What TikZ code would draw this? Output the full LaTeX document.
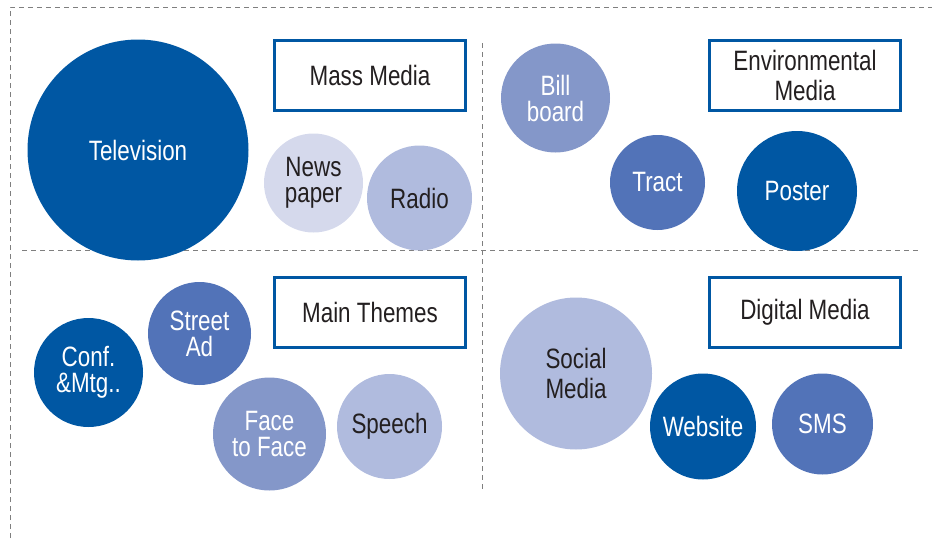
\documentclass[tikz,border=0pt]{standalone}
\usepackage{fontspec}
\setmainfont{Liberation Sans}[FakeStretch=0.8]
\definecolor{bDark}{HTML}{0057A3}
\definecolor{bMid}{HTML}{5273B8}
\definecolor{bSoft}{HTML}{8497C9}
\definecolor{bLight}{HTML}{B0BBDE}
\definecolor{bPale}{HTML}{D5D9EC}
\definecolor{txtgray}{HTML}{231F20}
\definecolor{framegray}{HTML}{7F7F7F}

\begin{document}
\begin{tikzpicture}[x=1pt, y=-1pt,
  every node/.style={font=\fontsize{28}{26}\selectfont},
  loose/.style={font=\fontsize{28}{30}\selectfont},
  bubble/.style={circle, inner sep=0pt, align=center},
  titlebox/.style={draw=bDark, line width=2.6pt, fill=white, minimum width=191pt, minimum height=70pt, inner sep=0pt, text=txtgray, align=center},
  sepline/.style={draw=framegray, dash pattern=on 5pt off 4pt, line width=1pt}]
  \useasboundingbox (0,0) rectangle (934,538);

  % Quadrantes
  \draw[sepline] (10,538) -- (10,7) -- (932,7);
  \draw[sepline] (22,250) -- (920,250);
  \draw[sepline] (482,43) -- (482,490);

  % Mass Media
  \node[titlebox] (massmedia) at (370,75.5) {Mass Media};
  \node[bubble, fill=bDark, text=white, minimum size=221pt] (tv) at (138,150) {Television};
  \node[bubble, fill=bPale, text=txtgray, minimum size=99pt] (newspaper) at (313.5,183) {News\\paper};
  \node[bubble, fill=bLight, text=txtgray, minimum size=105pt] (radio) at (419.5,198) {Radio};

  % Environmental Media
  \node[titlebox, loose] (envmedia) at (805,75.5) {Environmental\\Media};
  \node[bubble, fill=bSoft, text=white, minimum size=109pt] (billboard) at (555.5,98) {Bill\\board};
  \node[bubble, fill=bMid, text=white, minimum size=95pt] (tract) at (657.5,182.5) {Tract};
  \node[bubble, fill=bDark, text=white, minimum size=120pt] (poster) at (797,191) {Poster};

  % Main Themes
  \node[titlebox] (mainthemes) at (370,312.5) {Main Themes};
  \node[bubble, fill=bDark, text=white, minimum size=109pt] (conf) at (88.5,372.5) {Conf.\\\&Mtg..};
  \node[bubble, fill=bMid, text=white, minimum size=103pt] (streetad) at (199.5,333.5) {Street\\Ad};
  \node[bubble, fill=bSoft, text=white, minimum size=113pt] (facetoface) at (269.5,434) {Face\\to Face};
  \node[bubble, fill=bLight, text=txtgray, minimum size=105pt] (speech) at (389.5,426.5) {Speech};

  % Digital Media
  \node[titlebox] (digitalmedia) at (805,312.5) {Digital Media};
  \node[bubble, loose, fill=bLight, text=txtgray, minimum size=152pt] (socialmedia) at (576,373.5) {Social\\Media};
  \node[bubble, fill=bDark, text=white, minimum size=106pt] (website) at (703,426.5) {Website};
  \node[bubble, fill=bMid, text=white, minimum size=101pt] (sms) at (822.5,424) {SMS};
\end{tikzpicture}
\end{document}
